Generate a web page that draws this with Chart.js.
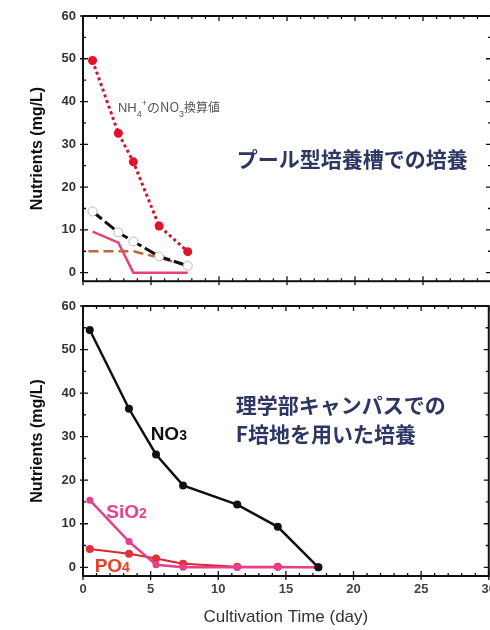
<!DOCTYPE html>
<html>
<head>
<meta charset="utf-8">
<script src="https://cdn.jsdelivr.net/npm/chart.js@4.4.1/dist/chart.umd.min.js"></script>
<style>
html, body { margin: 0; padding: 0; background: #fff; width: 490px; height: 630px; overflow: hidden; position: relative; }
canvas { position: absolute; left: 0; }
#poolChart { top: 0; }
#campusChart { top: 290px; }
</style>
</head>
<body>
<canvas id="poolChart" width="502" height="296"></canvas>
<canvas id="campusChart" width="502" height="340"></canvas>
<script>
/* ── Data: pool-type tank (top panel) ── */
const poolDays = [0.7, 2.6, 3.7, 5.6, 7.7];
const poolNH4asNO3 = [49.6, 32.6, 25.9, 10.9, 4.9];
const poolNO3 = [14.3, 9.4, 7.3, 3.8, 1.6];
const poolSiO2 = [9.6, 7.0, 0, 0, 0];
const poolPO4Days = [0.4, 3.7, 5.6, 7.7];
const poolPO4 = [5.0, 5.0, 3.5, 1.7];

/* ── Data: campus, F medium (bottom panel) ── */
const campusDays = [0.5, 3.4, 5.4, 7.4, 11.4, 14.4, 17.4];
const campusNO3 = [54.5, 36.4, 25.9, 18.8, 14.4, 9.3, 0];
const campusSiO2 = [15.4, 5.9, 0.6, 0, 0, 0, 0];
const campusPO4 = [4.2, 3.1, 2.0, 0.8, 0.1, 0.1, 0];

/* ── Axes ── */
const xTickValues = [0, 5, 10, 15, 20, 25, 30];
const yTickValues = [0, 10, 20, 30, 40, 50, 60];

const LATIN = "'Liberation Sans', Arial, sans-serif";
const CJK = "'Noto Sans CJK JP', sans-serif";
const NAVY = '#2e3763';

function pts(xs, ys) {
  return xs.map((x, i) => ({ x: x, y: ys[i] }));
}

/* ── Frame + inward ticks on all four sides ── */
const frameTicks = {
  id: 'frameTicks',
  afterDatasetsDraw(chart) {
    const { ctx, chartArea: a, scales: { x, y } } = chart;
    ctx.save();
    ctx.strokeStyle = '#111';
    ctx.lineWidth = 2;
    ctx.strokeRect(a.left, a.top, a.right - a.left, a.bottom - a.top);
    ctx.lineWidth = 1.3;
    ctx.beginPath();
    for (let v = 0; v <= 30; v++) {
      const px = x.getPixelForValue(v);
      const major = v % 5 === 0;
      const len = major ? 5 : 3;
      ctx.moveTo(px, a.bottom + (major ? 4 : 0));
      ctx.lineTo(px, a.bottom - len);
      ctx.moveTo(px, a.top);
      ctx.lineTo(px, a.top + len);
    }
    for (let v = 0; v <= 60; v += 5) {
      const py = y.getPixelForValue(v);
      const major = v % 10 === 0;
      const len = major ? 5 : 3;
      ctx.moveTo(a.left - (major ? 3 : 0), py);
      ctx.lineTo(a.left + len, py);
      ctx.moveTo(a.right, py);
      ctx.lineTo(a.right - len, py);
    }
    ctx.stroke();
    ctx.restore();
  }
};

/* ── Rich text labels (sub/superscripts) placed in data units ── */
function drawRich(ctx, px, py, parts) {
  let cx = px;
  parts.forEach(p => {
    ctx.font = (p.weight || 'normal') + ' ' + p.size + 'px ' + (p.family || LATIN);
    ctx.fillStyle = p.color;
    ctx.fillText(p.text, cx, py + (p.dy || 0));
    cx += ctx.measureText(p.text).width + (p.gap || 0);
  });
}

const textLabels = {
  id: 'textLabels',
  afterDatasetsDraw(chart, args, opts) {
    const { ctx, scales: { x, y } } = chart;
    ctx.save();
    ctx.textAlign = 'left';
    (opts.items || []).forEach(it => {
      ctx.textBaseline = it.baseline || 'alphabetic';
      drawRich(ctx, x.getPixelForValue(it.x), y.getPixelForValue(it.y), it.parts);
    });
    ctx.restore();
  }
};

function buildScales(showX) {
  return {
    x: {
      type: 'linear',
      min: 0,
      max: 30,
      afterBuildTicks: s => { s.ticks = xTickValues.map(v => ({ value: v })); },
      afterFit: s => { s.height = showX ? 54 : 10; },
      grid: { display: false, drawTicks: false },
      border: { display: false },
      ticks: {
        display: showX,
        padding: 6,
        color: '#444',
        font: { family: LATIN, size: 13, weight: 'bold' }
      },
      title: {
        display: showX,
        text: 'Cultivation Time (day)',
        color: '#333',
        font: { family: LATIN, size: 17 },
        padding: { top: 0, bottom: 2 }
      }
    },
    y: {
      min: -2,
      max: 60,
      afterBuildTicks: s => { s.ticks = yTickValues.map(v => ({ value: v })); },
      afterFit: s => { s.width = 83; },
      grid: { display: false, drawTicks: false },
      border: { display: false },
      ticks: {
        padding: 7,
        color: '#333',
        font: { family: LATIN, size: 13, weight: 'bold' }
      },
      title: {
        display: true,
        text: 'Nutrients (mg/L)',
        color: '#111',
        font: { family: LATIN, size: 16, weight: 'bold' },
        padding: { top: 28, bottom: 0 }
      }
    }
  };
}

function baseOptions(showX, labels) {
  return {
    responsive: false,
    animation: false,
    devicePixelRatio: 1,
    layout: { padding: { top: 16, right: 11, left: 0, bottom: 0 } },
    plugins: {
      legend: { display: false },
      tooltip: { enabled: false },
      textLabels: { items: labels }
    },
    scales: buildScales(showX)
  };
}

/* ── Top panel ── */
const poolLabels = [
  {
    x: 2.57, y: 37.6,
    parts: [
      { text: 'NH', size: 13, color: '#555' },
      { text: '4', size: 9, dy: 5, color: '#555' },
      { text: '+', size: 9, dy: -6, color: '#555' },
      { text: 'のNO', size: 13, family: CJK, color: '#555' },
      { text: '3', size: 9, dy: 5, color: '#555' },
      { text: '換算値', size: 12, family: CJK, color: '#555' }
    ]
  },
  {
    x: 11.3, y: 26.6, baseline: 'middle',
    parts: [{ text: 'プール型培養槽での培養', size: 21, weight: 'bold', family: CJK, color: NAVY }]
  }
];

new Chart(document.getElementById('poolChart'), {
  type: 'line',
  data: {
    datasets: [
      {
        data: pts(poolDays, poolNH4asNO3),
        borderColor: '#c8192e',
        borderWidth: 3,
        borderDash: [3, 3],
        pointRadius: 4.5,
        pointBackgroundColor: '#e3122b',
        pointBorderWidth: 0,
        order: 0
      },
      {
        data: pts(poolDays, poolNO3),
        borderColor: '#111',
        borderWidth: 3,
        borderDash: [12, 4],
        pointRadius: 4.5,
        pointBackgroundColor: '#fff',
        pointBorderColor: '#bbb',
        pointBorderWidth: 1,
        order: 1
      },
      {
        data: pts(poolPO4Days, poolPO4),
        borderColor: '#c4633f',
        borderWidth: 2.5,
        borderDash: [10, 5],
        pointRadius: 0,
        order: 2
      },
      {
        data: pts(poolDays, poolSiO2),
        borderColor: '#e8407f',
        borderWidth: 2.5,
        pointRadius: 0,
        order: 3
      }
    ]
  },
  options: baseOptions(false, poolLabels),
  plugins: [frameTicks, textLabels]
});

/* ── Bottom panel ── */
const campusLabels = [
  {
    x: 5.0, y: 29.2,
    parts: [
      { text: 'NO', size: 19, weight: 'bold', color: '#111' },
      { text: '3', size: 14, weight: 'bold', color: '#111' }
    ]
  },
  {
    x: 1.72, y: 11.3,
    parts: [
      { text: 'SiO', size: 19, weight: 'bold', color: '#e8408f' },
      { text: '2', size: 14, weight: 'bold', color: '#e8408f' }
    ]
  },
  {
    x: 0.86, y: -1.1,
    parts: [
      { text: 'PO', size: 19, weight: 'bold', color: '#e4402a' },
      { text: '4', size: 14, weight: 'bold', color: '#e4402a' }
    ]
  },
  {
    x: 11.3, y: 37.3, baseline: 'middle',
    parts: [{ text: '理学部キャンパスでの', size: 21, weight: 'bold', family: CJK, color: NAVY }]
  },
  {
    x: 11.3, y: 30.6, baseline: 'middle',
    parts: [{ text: 'F培地を用いた培養', size: 21, weight: 'bold', family: CJK, color: NAVY }]
  }
];

new Chart(document.getElementById('campusChart'), {
  type: 'line',
  data: {
    datasets: [
      {
        data: pts(campusDays, campusNO3),
        borderColor: '#111',
        borderWidth: 2.5,
        pointRadius: 4,
        pointBackgroundColor: '#111',
        pointBorderWidth: 0,
        order: 0
      },
      {
        data: pts(campusDays, campusSiO2),
        borderColor: '#e83e8c',
        borderWidth: 2.5,
        pointRadius: 3.5,
        pointBackgroundColor: '#e83e8c',
        pointBorderWidth: 0,
        order: 1
      },
      {
        data: pts(campusDays, campusPO4),
        borderColor: '#d9262e',
        borderWidth: 2,
        pointRadius: 4,
        pointBackgroundColor: '#e0303a',
        pointBorderWidth: 0,
        order: 2
      }
    ]
  },
  options: baseOptions(true, campusLabels),
  plugins: [frameTicks, textLabels]
});
</script>
</body>
</html>
